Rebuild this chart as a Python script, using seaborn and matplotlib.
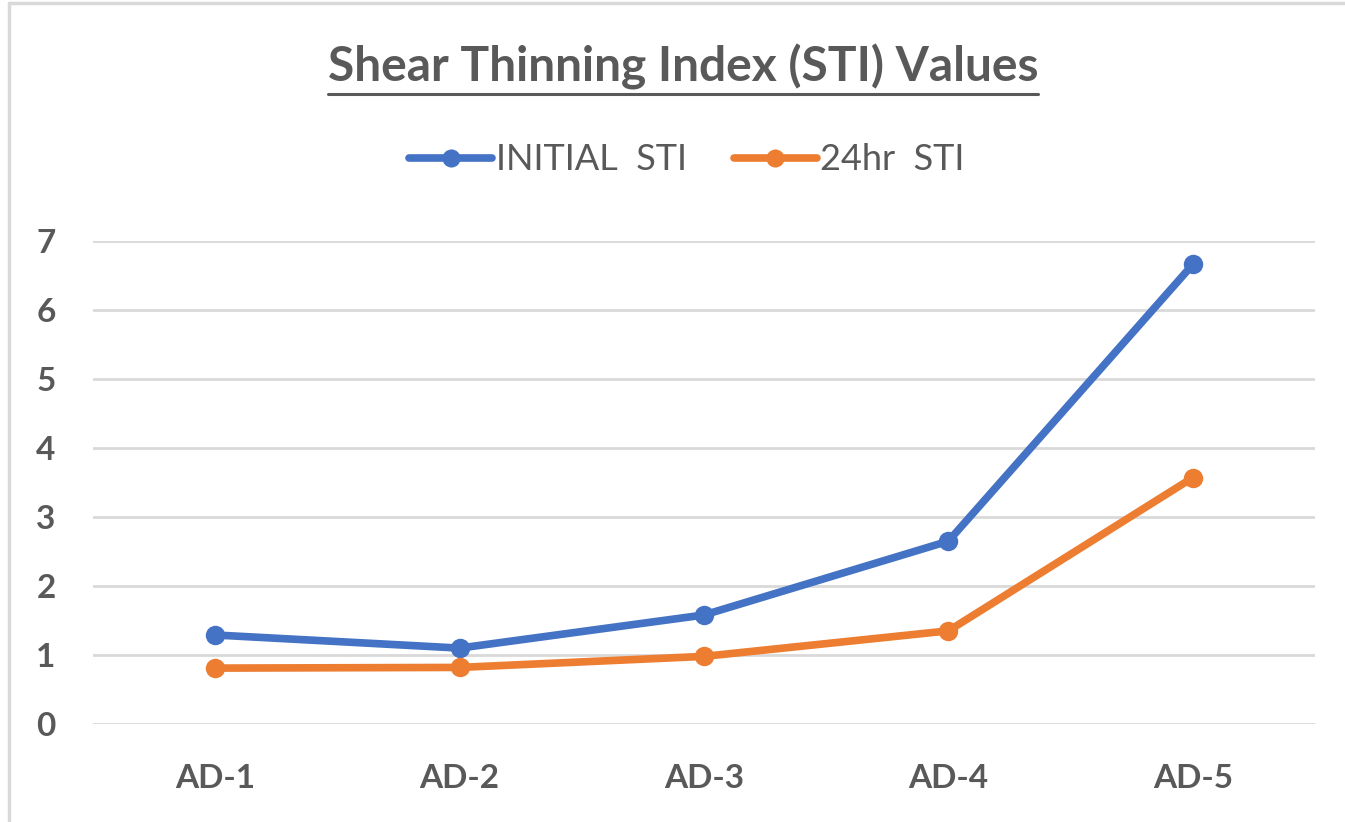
import matplotlib
matplotlib.use("Agg")
import matplotlib.pyplot as plt
import seaborn as sns
import pandas as pd
from matplotlib.lines import Line2D

categories = ["AD-1", "AD-2", "AD-3", "AD-4", "AD-5"]
initial_sti = [1.29, 1.10, 1.58, 2.65, 6.66]
sti_24hr = [0.81, 0.82, 0.98, 1.35, 3.57]
series_names = ["INITIAL  STI", "24hr  STI"]
colors = ["#4472C4", "#ED7D31"]
yticks = [0, 1, 2, 3, 4, 5, 6, 7]

sns.set_theme(style="white")
plt.rcParams['font.family'] = ['Lato', 'DejaVu Sans']

df = pd.DataFrame({
    "x": list(range(len(categories))) * 2,
    "val": initial_sti + sti_24hr,
    "series": [series_names[0]] * 5 + [series_names[1]] * 5,
})

W, H = 1345, 822
fig = plt.figure(figsize=(W / 100, H / 100), dpi=100)
ax = fig.add_axes([93 / W, 1 - 724 / H, (1315 - 93) / W, (724 - 241) / H])
sns.lineplot(data=df, x="x", y="val", hue="series", palette=colors,
             marker="o", markersize=14, markeredgewidth=0, linewidth=5.5,
             ax=ax, legend=False, sort=False)

grey = "#595959"
ax.set_xlim(-0.5, 4.5)
ax.set_ylim(0, 7)
ax.set_yticks(yticks)
ax.set_xticks(range(len(categories)))
ax.set_xticklabels(categories)
ax.grid(axis="y", color="#D9D9D9", linewidth=2)
ax.set_axisbelow(True)
for s in ax.spines.values():
    s.set_visible(False)
ax.tick_params(axis="y", length=0, labelsize=24, labelcolor=grey, pad=27)
ax.tick_params(axis="x", length=0, labelsize=24, labelcolor=grey, pad=29)
for lab in ax.get_xticklabels() + ax.get_yticklabels():
    lab.set_fontweight("bold")
ax.set_xlabel("")
ax.set_ylabel("")

# title
t = fig.text(683 / W, 1 - 67 / H, "Shear Thinning Index (STI) Values", ha="center", va="center",
             fontsize=34.5, fontweight="bold", color=grey)
fig.canvas.draw()
bb = t.get_window_extent()
fig.add_artist(Line2D([bb.x0 / W, bb.x1 / W], [1 - 94 / H] * 2,
                      color=grey, linewidth=2.2, transform=fig.transFigure))

# legend
handles = [Line2D([0], [0], color=c, linewidth=5.5, marker="o", markersize=13, markeredgewidth=0)
           for c in colors]
leg = fig.legend(handles, series_names, loc="center", bbox_to_anchor=(687 / W, 1 - 160 / H),
                 ncol=2, frameon=False, fontsize=26, handlelength=2.3, handletextpad=0.1,
                 columnspacing=1.3)
for txt in leg.get_texts():
    txt.set_color(grey)

# chart-area border (left and top edges visible)
fig.add_artist(Line2D([9 / W, 9 / W], [0, 1 - 3 / H], color="#D9D9D9", linewidth=2.5,
                      transform=fig.transFigure))
fig.add_artist(Line2D([9 / W, 1], [1 - 3 / H, 1 - 3 / H], color="#D9D9D9", linewidth=2.5,
                      transform=fig.transFigure))

fig.savefig("out.png", dpi=100)
